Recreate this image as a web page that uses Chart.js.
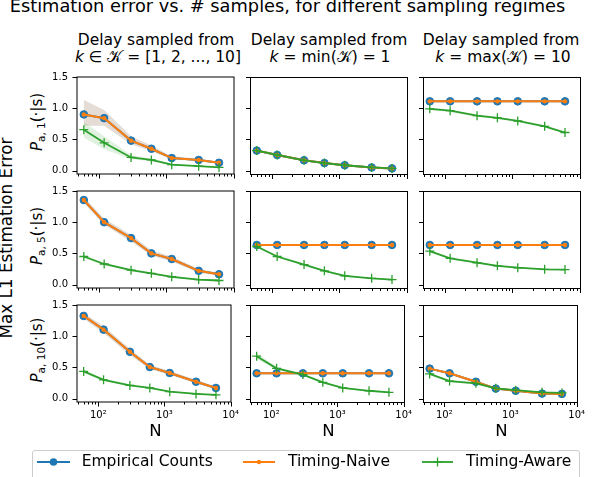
<!DOCTYPE html>
<html><head><meta charset="utf-8">
<script src="https://cdn.jsdelivr.net/npm/chart.js@4/dist/chart.umd.min.js"></script>
<style>
body{margin:0;width:594px;height:477px;overflow:hidden;background:#fff;font-family:"DejaVu Sans",sans-serif;position:relative}
.t{position:absolute;white-space:nowrap;transform:translate(-50%,-50%);line-height:1;color:#000}
.r{transform:translate(-50%,-50%) rotate(-90deg)}
.l{position:absolute;white-space:nowrap;transform:translate(0,-50%);line-height:1;color:#000;font-size:15.5px}
sub{font-size:70%;vertical-align:-0.3em;line-height:0}
canvas{position:absolute}
</style></head><body>
<div class="t" style="left:287.5px;top:6.3px;font-size:17.8px">Estimation error vs. # samples, for different sampling regimes</div>

<div class="t" style="left:156px;top:40.5px;font-size:15.5px">Delay sampled from</div>
<div class="t" style="left:158px;top:57.5px;font-size:15.5px"><i>k</i> ∈ 𝒦 = [1, 2, ..., 10]</div>
<div class="t" style="left:329px;top:40.5px;font-size:15.5px">Delay sampled from</div>
<div class="t" style="left:330px;top:57.5px;font-size:15.5px"><i>k</i> = min(𝒦) = 1</div>
<div class="t" style="left:501px;top:40.5px;font-size:15.5px">Delay sampled from</div>
<div class="t" style="left:503px;top:57.5px;font-size:15.5px"><i>k</i> = max(𝒦) = 10</div>

<div class="t r" style="left:5.5px;top:238px;font-size:16.8px">Max L1 Estimation Error</div>
<div class="t r" style="left:36.5px;top:122px;font-size:15px"><i>P</i><sub>a, 1</sub>(·|s)</div>
<div class="t r" style="left:36.5px;top:236px;font-size:15px"><i>P</i><sub>a, 5</sub>(·|s)</div>
<div class="t r" style="left:36.5px;top:350px;font-size:15px"><i>P</i><sub>a, 10</sub>(·|s)</div>

<div id="charts"></div>

<div class="t" style="left:155.5px;top:431px;font-size:16.5px">N</div>
<div class="t" style="left:328.5px;top:431px;font-size:16.5px">N</div>
<div class="t" style="left:501.5px;top:431px;font-size:16.5px">N</div>

<div style="position:absolute;left:32px;top:450px;width:546px;height:40px;border:1px solid #ccc;border-radius:3px;background:rgba(255,255,255,0.8)"></div>
<svg style="position:absolute;left:0;top:0" width="594" height="477">
<line x1="37" y1="462" x2="70" y2="462" stroke="#1f77b4" stroke-width="2"/>
<circle cx="53.5" cy="462" r="3.8" fill="#1f77b4"/>
<line x1="243" y1="462" x2="275" y2="462" stroke="#ff7f0e" stroke-width="2"/>
<circle cx="259" cy="462" r="2.2" fill="#ff7f0e"/>
<line x1="422" y1="462" x2="453" y2="462" stroke="#2ca02c" stroke-width="1.8"/>
<line x1="433" y1="462" x2="442" y2="462" stroke="#2ca02c" stroke-width="1.3"/>
<line x1="437.5" y1="457.5" x2="437.5" y2="466.5" stroke="#2ca02c" stroke-width="1.3"/>
</svg>
<div class="l" style="left:81.7px;top:462px">Empirical Counts</div>
<div class="l" style="left:288px;top:462px">Timing-Naive</div>
<div class="l" style="left:466px;top:462px">Timing-Aware</div>

<script>
const N = [60, 120, 300, 600, 1200, 3000, 6000];
const xTicks = [50,60,70,80,90,100,200,300,400,500,600,700,800,900,1000,2000,3000,4000,5000,6000,7000,8000,9000,10000];
const xMajor = [100, 1000, 10000];
const xMajorLabels = ['10²', '10³', '10⁴'];
const yTicks = [0, 0.5, 1.0, 1.5];
const seriesNames = ['Empirical Counts', 'Timing-Naive', 'Timing-Aware'];

// panels in row-major order: rows = P_a,1 / P_a,5 / P_a,10 ; cols = all k / min k / max k
const empiricalCounts = [
  [0.90, 0.84, 0.48, 0.35, 0.20, 0.17, 0.125],
  [0.32, 0.25, 0.165, 0.12, 0.085, 0.05, 0.035],
  [1.11, 1.11, 1.11, 1.11, 1.11, 1.11, 1.11],
  [1.355, 1.00, 0.745, 0.50, 0.41, 0.22, 0.165],
  [0.635, 0.635, 0.635, 0.635, 0.635, 0.635, 0.635],
  [0.635, 0.635, 0.635, 0.635, 0.635, 0.635, 0.635],
  [1.325, 1.105, 0.75, 0.505, 0.41, 0.27, 0.17],
  [0.405, 0.405, 0.405, 0.405, 0.405, 0.405, 0.405],
  [0.48, 0.405, 0.27, 0.16, 0.125, 0.08, 0.075]
];
const timingNaive = [
  [0.90, 0.84, 0.48, 0.35, 0.20, 0.17, 0.125],
  [0.32, 0.25, 0.165, 0.12, 0.085, 0.05, 0.035],
  [1.11, 1.11, 1.11, 1.11, 1.11, 1.11, 1.11],
  [1.355, 1.00, 0.745, 0.50, 0.41, 0.22, 0.165],
  [0.635, 0.635, 0.635, 0.635, 0.635, 0.635, 0.635],
  [0.635, 0.635, 0.635, 0.635, 0.635, 0.635, 0.635],
  [1.325, 1.105, 0.75, 0.505, 0.41, 0.27, 0.17],
  [0.405, 0.405, 0.405, 0.405, 0.405, 0.405, 0.405],
  [0.48, 0.405, 0.27, 0.16, 0.125, 0.08, 0.075]
];
const timingAware = [
  [0.655, 0.445, 0.21, 0.17, 0.095, 0.07, 0.05],
  [0.32, 0.25, 0.165, 0.12, 0.085, 0.05, 0.035],
  [0.99, 0.96, 0.88, 0.845, 0.795, 0.71, 0.61],
  [0.45, 0.33, 0.23, 0.18, 0.125, 0.08, 0.065],
  [0.61, 0.45, 0.32, 0.22, 0.14, 0.10, 0.08],
  [0.535, 0.42, 0.35, 0.30, 0.27, 0.245, 0.24],
  [0.435, 0.30, 0.21, 0.17, 0.11, 0.075, 0.06],
  [0.68, 0.485, 0.385, 0.26, 0.17, 0.125, 0.10],
  [0.395, 0.28, 0.245, 0.165, 0.135, 0.10, 0.09]
];
const countsHi = [
  [1.13, 0.97, 0.55, 0.40, 0.23, 0.19, 0.14],
  [0.34, 0.27, 0.18, 0.13, 0.095, 0.06, 0.045],
  [1.12, 1.12, 1.12, 1.12, 1.12, 1.12, 1.12],
  [1.40, 1.06, 0.80, 0.55, 0.45, 0.25, 0.19],
  [0.645, 0.645, 0.645, 0.645, 0.645, 0.645, 0.645],
  [0.645, 0.645, 0.645, 0.645, 0.645, 0.645, 0.645],
  [1.37, 1.16, 0.80, 0.54, 0.44, 0.30, 0.19],
  [0.415, 0.415, 0.415, 0.415, 0.415, 0.415, 0.415],
  [0.50, 0.42, 0.29, 0.17, 0.135, 0.09, 0.085]
];
const countsLo = [
  [0.72, 0.72, 0.42, 0.31, 0.18, 0.15, 0.11],
  [0.30, 0.23, 0.15, 0.11, 0.075, 0.04, 0.028],
  [1.10, 1.10, 1.10, 1.10, 1.10, 1.10, 1.10],
  [1.31, 0.96, 0.69, 0.46, 0.37, 0.19, 0.14],
  [0.625, 0.625, 0.625, 0.625, 0.625, 0.625, 0.625],
  [0.625, 0.625, 0.625, 0.625, 0.625, 0.625, 0.625],
  [1.28, 1.05, 0.70, 0.47, 0.38, 0.24, 0.15],
  [0.395, 0.395, 0.395, 0.395, 0.395, 0.395, 0.395],
  [0.46, 0.39, 0.25, 0.15, 0.115, 0.07, 0.065]
];
const awareHi = [
  [0.78, 0.55, 0.25, 0.19, 0.11, 0.08, 0.06],
  [0.34, 0.27, 0.18, 0.13, 0.095, 0.06, 0.045],
  [1.01, 0.98, 0.90, 0.86, 0.81, 0.725, 0.625],
  [0.48, 0.35, 0.25, 0.195, 0.14, 0.09, 0.075],
  [0.63, 0.47, 0.34, 0.235, 0.155, 0.11, 0.09],
  [0.555, 0.435, 0.365, 0.315, 0.28, 0.255, 0.25],
  [0.46, 0.32, 0.225, 0.18, 0.12, 0.085, 0.07],
  [0.73, 0.51, 0.40, 0.275, 0.18, 0.135, 0.11],
  [0.415, 0.30, 0.26, 0.175, 0.145, 0.11, 0.10]
];
const awareLo = [
  [0.53, 0.34, 0.18, 0.15, 0.08, 0.06, 0.04],
  [0.30, 0.23, 0.15, 0.11, 0.075, 0.04, 0.028],
  [0.97, 0.94, 0.86, 0.83, 0.78, 0.695, 0.595],
  [0.42, 0.31, 0.21, 0.165, 0.11, 0.07, 0.055],
  [0.59, 0.43, 0.30, 0.205, 0.125, 0.09, 0.07],
  [0.515, 0.405, 0.335, 0.285, 0.26, 0.235, 0.23],
  [0.41, 0.28, 0.195, 0.16, 0.10, 0.065, 0.05],
  [0.63, 0.46, 0.37, 0.245, 0.16, 0.115, 0.09],
  [0.375, 0.26, 0.23, 0.155, 0.125, 0.09, 0.08]
];

const colLeft = [77, 250, 423], rowTop = [70, 184, 298];
const W = 157, H = 104, PL = 40, PT = 8, PR = 12, PB = 40;
const FONT = '"DejaVu Sans", sans-serif';

const pts = arr => N.map((n, i) => ({x: n, y: arr[i]}));

const framePlugin = {
  id: 'frame',
  afterDraw(chart, args, opts) {
    const {ctx, chartArea: a, scales: {x, y}} = chart;
    const off = opts.off;
    const l = Math.round(a.left) + off, r = Math.round(a.right) + off;
    const t = Math.round(a.top) + off, b = Math.round(a.bottom) + off;
    ctx.save();
    ctx.strokeStyle = '#000';
    ctx.lineWidth = 1;
    ctx.strokeRect(l, t, r - l, b - t);
    ctx.beginPath();
    xTicks.forEach(v => {
      const px = Math.round(x.getPixelForValue(v)) + 0.5;
      const len = xMajor.includes(v) ? 4.5 : 2.5;
      ctx.moveTo(px, b); ctx.lineTo(px, b + len);
    });
    yTicks.forEach(v => {
      const py = Math.round(y.getPixelForValue(v)) + 0.5;
      ctx.moveTo(l, py); ctx.lineTo(l - 4.5, py);
    });
    ctx.stroke();
    ctx.restore();
  }
};

const holder = document.getElementById('charts');
for (let r = 0; r < 3; r++) {
  for (let c = 0; c < 3; c++) {
    const k = r * 3 + c;
    const cv = document.createElement('canvas');
    cv.width = PL + W + PR; cv.height = PT + H + PB;
    cv.style.left = (colLeft[c] - PL) + 'px';
    cv.style.top = (rowTop[r] - PT) + 'px';
    cv.style.width = cv.width + 'px'; cv.style.height = cv.height + 'px';
    holder.appendChild(cv);
    new Chart(cv, {
      type: 'line',
      data: {
        datasets: [
          {data: pts(countsHi[k]), borderWidth: 0, pointRadius: 0, fill: false, order: 5},
          {data: pts(countsLo[k]), borderWidth: 0, pointRadius: 0, fill: '-1', backgroundColor: 'rgba(165,140,115,0.3)', order: 5},
          {data: pts(awareHi[k]), borderWidth: 0, pointRadius: 0, fill: false, order: 4},
          {data: pts(awareLo[k]), borderWidth: 0, pointRadius: 0, fill: '-1', backgroundColor: 'rgba(44,160,44,0.15)', order: 4},
          {label: seriesNames[0], data: pts(empiricalCounts[k]), borderColor: '#1f77b4', borderWidth: 2,
           pointRadius: 3.8, pointBackgroundColor: '#1f77b4', pointBorderColor: '#1f77b4', pointBorderWidth: 1, fill: false, order: 3},
          {label: seriesNames[1], data: pts(timingNaive[k]), borderColor: '#ff7f0e', borderWidth: 2,
           pointRadius: 2.2, pointBackgroundColor: '#ff7f0e', pointBorderColor: '#ff7f0e', pointBorderWidth: 0, fill: false, order: 2},
          {label: seriesNames[2], data: pts(timingAware[k]), borderColor: '#2ca02c', borderWidth: 1.8,
           pointStyle: 'cross', pointRadius: 4.5, pointBorderColor: '#2ca02c', pointBorderWidth: 1.3, fill: false, order: 1}
        ]
      },
      options: {
        responsive: false, animation: false, devicePixelRatio: 1,
        elements: {line: {tension: 0}},
        layout: {padding: {left: 0, top: PT, right: PR, bottom: 0}},
        plugins: {legend: {display: false}, tooltip: {enabled: false}, frame: {off: c === 0 ? 0 : 0.5}},
        scales: {
          x: {
            type: 'logarithmic', min: 47.6, max: 10000,
            afterFit: s => { s.height = PB; },
            afterBuildTicks: s => { s.ticks = xTicks.map(v => ({value: v})); },
            grid: {display: false, drawTicks: false}, border: {display: false},
            ticks: {autoSkip: false, maxRotation: 0, minRotation: 0, padding: 7, color: '#000',
              font: {family: FONT, size: 10},
              callback: v => { const i = xMajor.indexOf(v); return (r === 2 && i >= 0) ? xMajorLabels[i] : ''; }}
          },
          y: {
            type: 'linear', min: -0.055, max: 1.5,
            afterFit: s => { s.width = PL; },
            afterBuildTicks: s => { s.ticks = yTicks.map(v => ({value: v})); },
            grid: {display: false, drawTicks: false}, border: {display: false},
            ticks: {padding: 9, color: '#000', font: {family: FONT, size: 10},
              callback: v => c === 0 ? Number(v).toFixed(1) : ''}
          }
        }
      },
      plugins: [framePlugin]
    });
  }
}
</script>
</body></html>
